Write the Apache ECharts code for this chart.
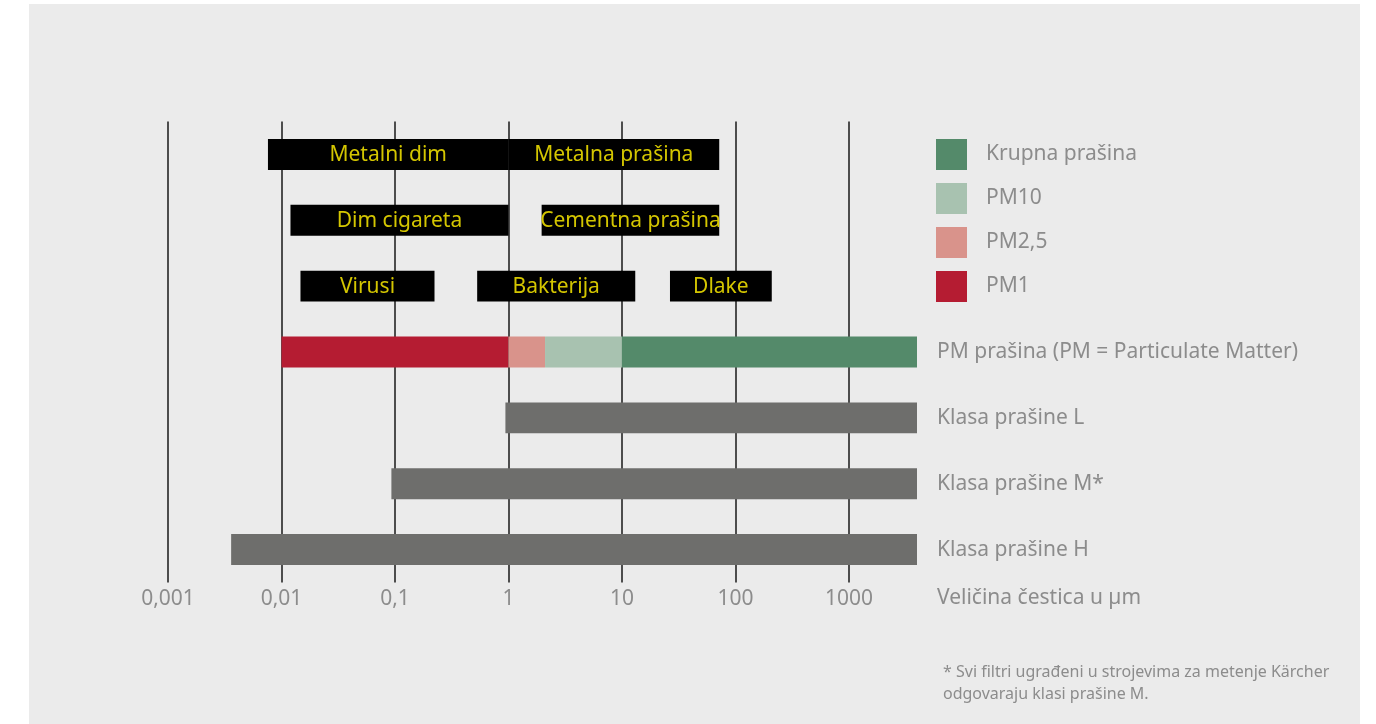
<!DOCTYPE html>
<html>
<head>
<meta charset="utf-8">
<script src="https://cdn.jsdelivr.net/npm/echarts@6/dist/echarts.min.js"></script>
<style>
html, body { margin: 0; padding: 0; background: #fff; }
#panel { position: absolute; left: 29px; top: 4px; width: 1331px; height: 720px; background: #ebebeb; }
#chart { position: absolute; left: 0; top: 0; width: 1376px; height: 724px; }
</style>
</head>
<body>
<div id="panel"></div>
<div id="chart"></div>
<script>
// rows of the chart, top to bottom (first three rows hold the particle boxes)
var rowNames = ['', '', '', 'PM prašina (PM = Particulate Matter)', 'Klasa prašine L', 'Klasa prašine M*', 'Klasa prašine H'];
// tick labels for 10^-3 ... 10^3
var tickLabels = ['0,001', '0,01', '0,1', '1', '10', '100', '1000'];
var axisTitle = 'Veličina čestica u µm';
var axisMin = 0.001;
var axisMax = 3980;

// black boxes with particle types
var sourceNames = ['Metalni dim', 'Metalna prašina', 'Dim cigareta', 'Cementna prašina', 'Virusi', 'Bakterija', 'Dlake'];
var sourceFrom = [0.0076, 1, 0.012, 1.96, 0.0147, 0.53, 26.5];
var sourceTo = [1, 72, 1, 72, 0.223, 13.1, 209];
var sourceRow = [0, 0, 1, 1, 2, 2, 2];

// PM segments
var pmNames = ['PM1', 'PM2,5', 'PM10', 'Krupna prašina'];
var pmFrom = [0.01, 1, 2.1, 10];
var pmTo = [1, 2.1, 10, 3980];
var pmRow = 3;
var pmColors = ['#b51c32', '#d9938b', '#a8c2b0', '#548a6a'];

// dust classes L, M, H
var classRow = [4, 5, 6];
var classFrom = [0.94, 0.093, 0.0036];
var classTo = [3980, 3980, 3980];

var textGray = '#8c8c8c';
var fontName = '"Noto Sans", sans-serif';

var chart = echarts.init(document.getElementById('chart'));

function barShape(params, api) {
    var p0 = api.coord([api.value(0), api.value(2)]);
    var p1 = api.coord([api.value(1), api.value(2)]);
    var h = api.size([0, 1])[1] * 0.47;
    return {
        x: p0[0],
        y: p0[1] - h / 2,
        width: p1[0] - p0[0],
        height: h
    };
}

function renderRange(params, api) {
    return {
        type: 'rect',
        shape: barShape(params, api),
        style: { fill: api.visual('color') }
    };
}

function renderBox(params, api) {
    var s = barShape(params, api);
    return {
        type: 'group',
        children: [
            { type: 'rect', shape: s, style: { fill: '#000' } },
            {
                type: 'text',
                style: {
                    text: sourceNames[params.dataIndex],
                    x: s.x + s.width / 2,
                    y: s.y + s.height / 2 + 1,
                    align: 'center',
                    verticalAlign: 'middle',
                    fill: '#d4c600',
                    font: '21px ' + fontName
                }
            }
        ]
    };
}

var series = [];

series.push({
    type: 'custom',
    name: 'izvori',
    renderItem: renderBox,
    encode: { x: [0, 1], y: 2 },
    data: sourceNames.map(function (n, i) { return [sourceFrom[i], sourceTo[i], sourceRow[i]]; })
});

pmNames.forEach(function (n, i) {
    series.push({
        type: 'custom',
        name: n,
        renderItem: renderRange,
        itemStyle: { color: pmColors[i] },
        encode: { x: [0, 1], y: 2 },
        data: [[pmFrom[i], pmTo[i], pmRow]]
    });
});

series.push({
    type: 'custom',
    name: 'klase',
    renderItem: renderRange,
    itemStyle: { color: '#6e6e6c' },
    encode: { x: [0, 1], y: 2 },
    data: classRow.map(function (r, i) { return [classFrom[i], classTo[i], r]; })
});

chart.setOption({
    backgroundColor: 'transparent',
    animation: false,
    textStyle: { fontFamily: fontName },
    grid: { left: 168, top: 121.5, width: 749, height: 461 },
    legend: {
        orient: 'vertical',
        left: 936,
        top: 139,
        padding: 0,
        itemWidth: 31,
        itemHeight: 31,
        itemGap: 13,
        selectedMode: false,
        data: ['Krupna prašina', 'PM10', 'PM2,5', 'PM1'].map(function (n) { return { name: n, icon: 'rect' }; }),
        textStyle: { color: textGray, fontSize: 21, padding: [4, 0, 0, 14] }
    },
    xAxis: {
        type: 'log',
        logBase: 10,
        min: axisMin,
        max: axisMax,
        axisLine: { show: false },
        axisTick: { show: false },
        splitLine: { show: true, showMaxLine: false, lineStyle: { color: '#4d4d4d', width: 2 } },
        axisLabel: {
            color: textGray,
            fontSize: 21,
            margin: 6,
            showMaxLabel: false,
            formatter: function (v) {
                var k = Math.log10(v);
                if (Math.abs(k - Math.round(k)) > 1e-6) return '';
                var s = tickLabels[Math.round(k) + 3];
                return s === undefined ? '' : s;
            }
        }
    },
    yAxis: {
        type: 'category',
        data: rowNames,
        inverse: true,
        position: 'right',
        axisLine: { show: false },
        axisTick: { show: false },
        splitLine: { show: false },
        axisLabel: { color: textGray, fontSize: 21, margin: 20, padding: [4, 0, 0, 0] }
    },
    graphic: [{
        type: 'text',
        left: 937,
        top: 588,
        style: {
            text: axisTitle,
            fill: textGray,
            font: '21px ' + fontName
        }
    }, {
        type: 'text',
        left: 943,
        top: 661,
        style: {
            text: '* Svi filtri ugrađeni u strojevima za metenje Kärcher\nodgovaraju klasi prašine M.',
            fill: textGray,
            font: '16px ' + fontName,
            lineHeight: 22
        }
    }],
    series: series
});
</script>
</body>
</html>
